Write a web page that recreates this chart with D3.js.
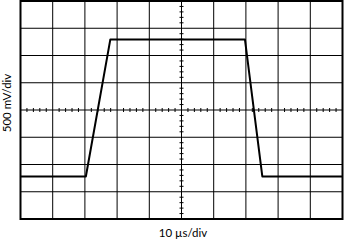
<!DOCTYPE html>
<html>
<head>
<meta charset="utf-8">
<script src="https://cdn.jsdelivr.net/npm/d3@7"></script>
<style>
  body { margin: 0; background: #fff; }
  svg { display: block; }
  text { font-family: Lato, "Open Sans", sans-serif; font-size: 11.5px; fill: #000; }
</style>
</head>
<body>
<svg id="chart" width="344" height="242"></svg>
<script>
// waveform in divisions: time (10 µs/div), amplitude (500 mV/div)
var timeDiv = [0, 2.03, 2.79, 6.97, 7.51, 10];
var voltDiv = [-2.44, -2.44, 2.59, 2.59, -2.44, -2.44];
var xLabel = "10 µs/div";
var yLabel = "500 mV/div";

var svg = d3.select("#chart");

var x = d3.scaleLinear().domain([0, 10]).range([20.5, 342.5]);
var y = d3.scaleLinear().domain([-4, 4]).range([219, 1]);

var xMajor = d3.range(1, 10);
var yMajor = d3.range(-3, 4);

// major grid
svg.append("g").selectAll("line").data(xMajor).enter().append("line")
  .attr("x1", function (d) { return x(d); }).attr("x2", function (d) { return x(d); })
  .attr("y1", y(-4)).attr("y2", y(4))
  .attr("stroke", "#000").attr("stroke-width", 1);

svg.append("g").selectAll("line").data(yMajor).enter().append("line")
  .attr("y1", function (d) { return y(d); }).attr("y2", function (d) { return y(d); })
  .attr("x1", x(0)).attr("x2", x(10))
  .attr("stroke", "#000").attr("stroke-width", 1);

// minor ticks on the centre axes
var xMinor = d3.range(0, 10.01, 0.2).filter(function (d) { return Math.abs(d - Math.round(d)) > 0.01; });
var yMinor = d3.range(-4, 4.01, 0.2).filter(function (d) { return Math.abs(d - Math.round(d)) > 0.01; });

svg.append("g").selectAll("line").data(xMinor).enter().append("line")
  .attr("x1", function (d) { return x(d); }).attr("x2", function (d) { return x(d); })
  .attr("y1", y(0) - 2).attr("y2", y(0) + 2)
  .attr("stroke", "#000").attr("stroke-width", 1);

svg.append("g").selectAll("line").data(yMinor).enter().append("line")
  .attr("y1", function (d) { return y(d); }).attr("y2", function (d) { return y(d); })
  .attr("x1", x(5) - 2).attr("x2", x(5) + 2)
  .attr("stroke", "#000").attr("stroke-width", 1);

// frame
svg.append("rect")
  .attr("x", x(0)).attr("y", y(4))
  .attr("width", x(10) - x(0)).attr("height", y(-4) - y(4))
  .attr("fill", "none").attr("stroke", "#000").attr("stroke-width", 2);

// trace
var line = d3.line()
  .x(function (d, i) { return x(timeDiv[i]); })
  .y(function (d) { return y(d); });

svg.append("path")
  .datum(voltDiv)
  .attr("d", line)
  .attr("fill", "none")
  .attr("stroke", "#000")
  .attr("stroke-width", 2)
  .attr("stroke-linejoin", "round");

// labels
svg.append("text")
  .attr("x", 183).attr("y", 237)
  .attr("text-anchor", "middle")
  .text(xLabel);

svg.append("text")
  .attr("transform", "translate(11,103) rotate(-90)")
  .attr("text-anchor", "middle")
  .text(yLabel);
</script>
</body>
</html>
